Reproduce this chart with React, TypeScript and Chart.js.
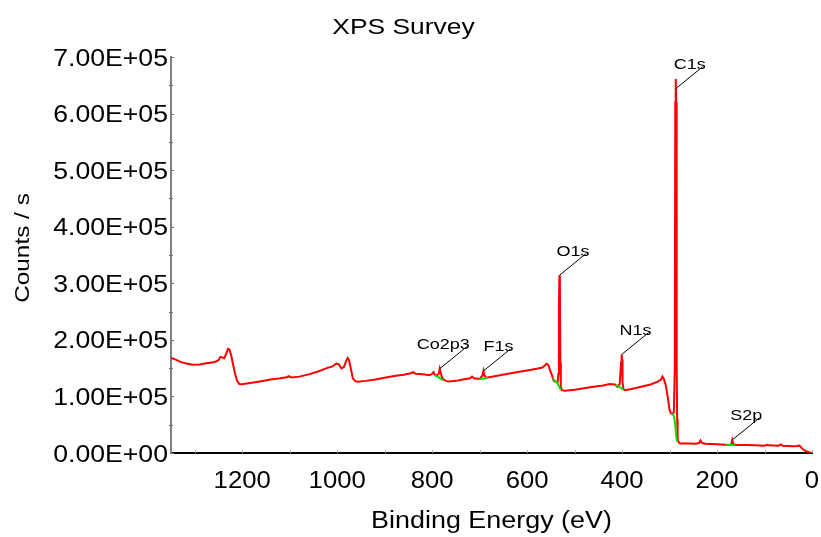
import React, { useEffect, useRef } from "react";
import { Chart, registerables } from "chart.js";

Chart.register(...registerables);

// ---- Data (binding energy in eV, intensity in counts/s) ----
const surveyEnergy = [
  1350, 1340, 1330, 1320, 1304, 1290, 1275, 1258, 1250, 1246, 1242, 1238, 1234, 1230, 1227, 1223,
  1219, 1215, 1211, 1206, 1200, 1180, 1160, 1140, 1120, 1106, 1102, 1096, 1080, 1060, 1040, 1022,
  1010, 1002, 997, 991, 986, 981, 978, 975, 971, 967, 962, 956, 940, 920, 900, 880,
  860, 845, 840, 835, 820, 805, 800, 797, 794, 790, 786, 784, 782, 779, 775, 770,
  765, 750, 735, 720, 716, 712, 700, 694, 692, 690, 686, 680, 660, 640, 620, 600,
  580, 568, 562, 559, 555, 552, 548, 544, 540, 536, 534, 533, 532, 531, 530, 529,
  527, 520, 500, 480, 460, 440, 426, 415, 410, 405, 402, 401, 400, 399, 397, 394,
  380, 360, 340, 325, 318, 315, 312, 308, 304, 300, 297, 294, 291, 289, 288, 287,
  286, 285, 284, 283, 281, 278, 260, 245, 238, 235, 232, 225, 200, 175, 170, 168,
  166, 160, 140, 120, 100, 95, 92, 70, 66, 62, 40, 30, 28, 25, 20, 12,
  5, 0,
];
const surveyCounts = [
  168000, 165000, 161000, 158500, 156000, 156500, 158500, 161000, 164000, 170000, 169000, 167500, 175000, 184000, 183000, 172000,
  155000, 140000, 128000, 122000, 121500, 124000, 127000, 130000, 132000, 134000, 136000, 133500, 135000, 139000, 144000, 150000,
  153000, 158000, 157000, 149500, 152000, 163000, 168000, 164000, 148000, 132000, 127000, 126000, 127500, 130000, 133000, 136000,
  138500, 141000, 143000, 140000, 139000, 137500, 140000, 143000, 138000, 137500, 140000, 149000, 142000, 133000, 129500, 127000,
  126500, 127500, 130000, 132000, 135000, 132000, 131000, 137000, 145000, 137000, 133000, 134000, 137000, 140000, 143000, 146000,
  149000, 151000, 155000, 158000, 155000, 147000, 138000, 127500, 126000, 124000, 140000, 260000, 314000, 300000, 160000, 117000,
  111000, 110000, 112000, 114500, 117000, 119500, 122000, 121000, 117000, 122000, 160000, 174000, 165000, 125000, 113000, 111000,
  113000, 117000, 121000, 126000, 130000, 135000, 131000, 120000, 100000, 76000, 70000, 69000, 72000, 150000, 620000, 661000,
  620000, 150000, 60000, 25000, 19000, 17000, 17000, 16500, 17500, 22000, 18000, 16500, 15500, 14000, 15500, 23000,
  16000, 14000, 14000, 13500, 13000, 14500, 13500, 13000, 15000, 13000, 12000, 12500, 13500, 12000, 7000, 3000,
  800, 0,
];

// Peak backgrounds (green)
const bgCo2p3Energy = [794, 788, 783, 777];
const bgCo2p3Counts = [136500, 135000, 132000, 129000];
const bgF1sEnergy = [701, 692, 682];
const bgF1sCounts = [131000, 131500, 133500];
const bgO1sEnergy = [546, 540, 536, 533, 529];
const bgO1sCounts = [132000, 126000, 124000, 118000, 112000];
const bgN1sEnergy = [414, 408, 402, 396];
const bgN1sCounts = [120000, 118500, 115000, 111000];
const bgC1sEnergy = [296, 291, 288, 286, 284];
const bgC1sCounts = [70000, 66000, 50000, 30000, 20000];
const bgS2pEnergy = [181, 172, 168, 163];
const bgS2pCounts = [14500, 14200, 14000, 13600];

// Peak annotations
const peakLabels = ["Co2p3", "F1s", "O1s", "N1s", "C1s", "S2p"];
const peakEnergy = [784, 692, 532, 401, 287, 168];
const peakCounts = [149000, 145000, 314000, 174000, 644000, 23000];

// Axes
const xTickValues = [1200, 1000, 800, 600, 400, 200, 0];
const xMinorTickValues = [1300, 1200, 1100, 1000, 900, 800, 700, 600, 500, 400, 300, 200, 100, 0];
const yTickValues = [0, 100000, 200000, 300000, 400000, 500000, 600000, 700000];
const yMinorTickValues = [50000, 150000, 250000, 350000, 450000, 550000, 650000];
const chartTitle = "XPS Survey";
const xAxisTitle = "Binding Energy (eV)";
const yAxisTitle = "Counts / s";

const FONT = "'Liberation Sans', Arial, sans-serif";

function toPoints(xs: number[], ys: number[]) {
  return xs.map((x, i) => ({ x, y: ys[i] }));
}

function formatSci(v: number): string {
  if (v === 0) return "0.00E+00";
  const e = Math.floor(Math.log10(Math.abs(v)) + 1e-9);
  const m = v / Math.pow(10, e);
  return m.toFixed(2) + "E" + (e < 0 ? "-" : "+") + String(Math.abs(e)).padStart(2, "0");
}

function drawText(
  ctx: CanvasRenderingContext2D,
  text: string,
  x: number,
  y: number,
  size: number,
  sx: number,
  align: CanvasTextAlign,
  rotate = 0
) {
  ctx.save();
  ctx.translate(x, y);
  if (rotate) ctx.rotate(rotate);
  ctx.scale(sx, 1);
  ctx.font = `${size}px ${FONT}`;
  ctx.textAlign = align;
  ctx.textBaseline = "alphabetic";
  ctx.fillText(text, 0, 0);
  ctx.restore();
}

const decorPlugin = {
  id: "decor",
  afterDraw(chart: any) {
    const { ctx, chartArea, scales } = chart;
    const xs = scales.x;
    const ys = scales.y;
    ctx.save();
    ctx.fillStyle = "#000";
    // x ticks (inside, faint)
    ctx.strokeStyle = "#b0b0b0";
    ctx.lineWidth = 1;
    for (const v of xMinorTickValues) {
      const px = Math.round(xs.getPixelForValue(v)) + 0.5;
      ctx.beginPath();
      ctx.moveTo(px, chartArea.bottom - 3);
      ctx.lineTo(px, chartArea.bottom);
      ctx.stroke();
    }
    // y ticks
    ctx.strokeStyle = "#707070";
    for (const v of yTickValues) {
      const py = Math.round(ys.getPixelForValue(v)) + 0.5;
      ctx.beginPath();
      ctx.moveTo(chartArea.left, py);
      ctx.lineTo(chartArea.left + 3, py);
      ctx.stroke();
    }
    for (const v of yMinorTickValues) {
      const py = Math.round(ys.getPixelForValue(v)) + 0.5;
      ctx.beginPath();
      ctx.moveTo(chartArea.left - 2, py);
      ctx.lineTo(chartArea.left + 2, py);
      ctx.stroke();
    }
    // tick labels
    for (const v of xTickValues) {
      drawText(ctx, String(v), xs.getPixelForValue(v), 488, 24.5, 1.05, "center");
    }
    for (const v of yTickValues) {
      drawText(ctx, formatSci(v), chartArea.left - 3, ys.getPixelForValue(v) + 8.6, 24, 1.11, "right");
    }
    // peak labels with leader lines
    ctx.strokeStyle = "#000";
    ctx.lineWidth = 1;
    peakLabels.forEach((label, i) => {
      const px = xs.getPixelForValue(peakEnergy[i]);
      const py = ys.getPixelForValue(peakCounts[i]);
      const ex = px + 27;
      const ey = py - 22;
      ctx.beginPath();
      ctx.moveTo(px, py);
      ctx.lineTo(ex, ey);
      ctx.stroke();
      drawText(ctx, label, ex + 3, ey + 2.5, 15, 1.2, "right");
    });
    // titles
    drawText(ctx, chartTitle, 403.5, 34, 22, 1.2, "center");
    drawText(ctx, xAxisTitle, (chartArea.left + chartArea.right) / 2, 528, 23, 1.17, "center");
    drawText(ctx, yAxisTitle, 28.5, 248, 21, 1.16, "center", -Math.PI / 2);
    ctx.restore();
  },
};

export default function App() {
  const canvasRef = useRef<HTMLCanvasElement | null>(null);

  useEffect(() => {
    const canvas = canvasRef.current;
    if (!canvas) return;
    const bgStyle = {
      borderColor: "#00dd00",
      borderWidth: 2,
      pointRadius: 0,
      fill: false,
      tension: 0,
    };
    const chart = new Chart(canvas, {
      type: "line",
      data: {
        datasets: [
          { ...bgStyle, data: toPoints(bgCo2p3Energy, bgCo2p3Counts) },
          { ...bgStyle, data: toPoints(bgF1sEnergy, bgF1sCounts) },
          { ...bgStyle, data: toPoints(bgO1sEnergy, bgO1sCounts) },
          { ...bgStyle, data: toPoints(bgN1sEnergy, bgN1sCounts) },
          { ...bgStyle, data: toPoints(bgC1sEnergy, bgC1sCounts) },
          { ...bgStyle, data: toPoints(bgS2pEnergy, bgS2pCounts) },
          {
            data: toPoints(surveyEnergy, surveyCounts),
            borderColor: "#ff0000",
            borderWidth: 2,
            pointRadius: 0,
            fill: false,
            tension: 0,
          },
        ],
      },
      options: {
        responsive: false,
        animation: false,
        devicePixelRatio: 1,
        layout: { padding: { top: 57, left: 0, right: 9, bottom: 0 } },
        plugins: {
          legend: { display: false },
          tooltip: { enabled: false },
          title: { display: false },
        },
        scales: {
          x: {
            type: "linear",
            min: 0,
            max: 1350,
            reverse: true,
            afterFit(scale: any) {
              scale.height = 84;
              scale.paddingLeft = 0;
              scale.paddingRight = 0;
            },
            afterBuildTicks(scale: any) {
              scale.ticks = xTickValues.map((v) => ({ value: v }));
            },
            ticks: { display: false },
            grid: { display: false, drawTicks: false },
            border: { display: true, color: "#000", width: 2 },
            title: { display: false },
          },
          y: {
            type: "linear",
            min: 0,
            max: 700000,
            afterFit(scale: any) {
              scale.width = 171;
              scale.paddingTop = 0;
              scale.paddingBottom = 0;
            },
            afterBuildTicks(scale: any) {
              scale.ticks = yTickValues.map((v) => ({ value: v }));
            },
            ticks: { display: false },
            grid: { display: false, drawTicks: false },
            border: { display: true, color: "#808080", width: 2 },
            title: { display: false },
          },
        },
      },
      plugins: [decorPlugin],
    } as any);
    return () => chart.destroy();
  }, []);

  return (
    <div style={{ position: "absolute", left: 0, top: 0, width: 821, height: 537, background: "#fff" }}>
      <canvas ref={canvasRef} width={821} height={537} style={{ display: "block" }} />
    </div>
  );
}
